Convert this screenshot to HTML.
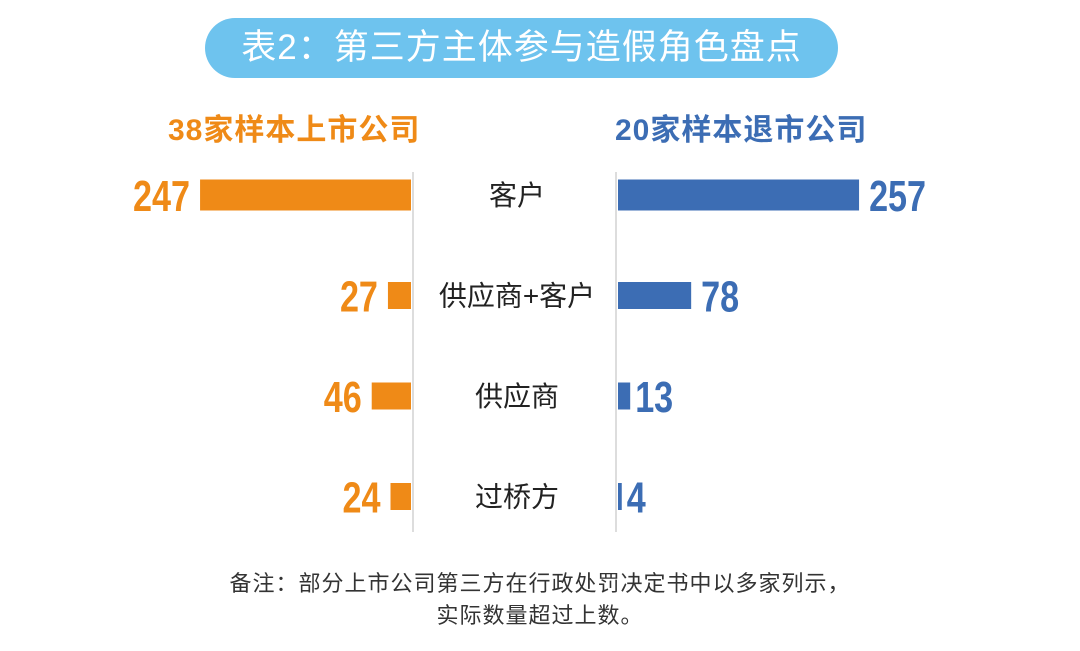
<!DOCTYPE html>
<html><head><meta charset="utf-8">
<style>
html,body{margin:0;padding:0;background:#fff;}
body{width:1080px;height:651px;overflow:hidden;position:relative;font-family:"Liberation Sans","Noto Sans CJK SC",sans-serif;}
.pill{position:absolute;left:205px;top:18px;width:633px;height:60px;border-radius:30px;background:#6ec3ee;color:#fff;font-size:35px;text-align:center;line-height:60px;letter-spacing:1px;}
.hdr{position:absolute;top:105px;font-size:30px;font-weight:bold;letter-spacing:1px;}
.foot{position:absolute;left:0;width:1080px;text-align:center;font-size:22px;color:#333;letter-spacing:1px;}
</style></head>
<body>
<div class="pill">表2：第三方主体参与造假角色盘点</div>
<div class="hdr" style="left:168px;color:#ef8a17;">38家样本上市公司</div>
<div class="hdr" style="left:615px;color:#3c6db4;">20家样本退市公司</div>
<svg id="chart" width="1080" height="651" style="position:absolute;left:0;top:0;">
<line x1="413" y1="172" x2="413" y2="532" stroke="#ddd" stroke-width="2"/>
<line x1="616" y1="172" x2="616" y2="532" stroke="#ddd" stroke-width="2"/>
</svg>
<div class="foot" style="top:566px;">备注：部分上市公司第三方在行政处罚决定书中以多家列示，</div>
<div class="foot" style="top:598px;">实际数量超过上数。</div>
<script>
const categories=["客户","供应商+客户","供应商","过桥方"];
const listedValues=[247,27,46,24];
const delistedValues=[257,78,13,4];
const svg=document.getElementById('chart');
const NS='http://www.w3.org/2000/svg';
const leftBase=411, rightBase=618;
function xLeft(v){return leftBase-v*0.854;}
function xRight(v){return rightBase+v*0.938;}
function yRow(i){return 195+i*100.5;}
function barH(i){return i===0?31:27;}
function numW(s){return String(s).length*19;}
categories.forEach((c,i)=>{
  const y=yRow(i), h=barH(i);
  const lx=xLeft(listedValues[i]);
  const r1=document.createElementNS(NS,'rect');
  r1.setAttribute('x',lx);r1.setAttribute('y',y-h/2);r1.setAttribute('width',leftBase-lx);r1.setAttribute('height',h);r1.setAttribute('fill','#ef8a17');
  
  
  svg.appendChild(r1);
  const rx=xRight(delistedValues[i]);
  const r2=document.createElementNS(NS,'rect');
  r2.setAttribute('x',rightBase);r2.setAttribute('y',y-h/2);r2.setAttribute('width',Math.max(3,rx-rightBase));r2.setAttribute('height',h);r2.setAttribute('fill','#3c6db4');
  
  
  svg.appendChild(r2);
  const t1=document.createElementNS(NS,'text');
  t1.setAttribute('x',lx-10);t1.setAttribute('y',y+16);t1.setAttribute('text-anchor','end');
  t1.setAttribute('font-family','"Liberation Sans",sans-serif');t1.setAttribute('font-weight','bold');t1.setAttribute('font-size','44');t1.setAttribute('fill','#ef8a17');
  t1.setAttribute('textLength',numW(listedValues[i]));t1.setAttribute('lengthAdjust','spacingAndGlyphs');
  t1.textContent=listedValues[i];
  
  
  svg.appendChild(t1);
  const t2=document.createElementNS(NS,'text');
  t2.setAttribute('x',Math.max(rx,rightBase+3)+(delistedValues[i]<20?5:10));t2.setAttribute('y',y+16);
  t2.setAttribute('font-family','"Liberation Sans",sans-serif');t2.setAttribute('font-weight','bold');t2.setAttribute('font-size','44');t2.setAttribute('fill','#3c6db4');
  t2.setAttribute('textLength',numW(delistedValues[i]));t2.setAttribute('lengthAdjust','spacingAndGlyphs');
  t2.textContent=delistedValues[i];
  
  
  svg.appendChild(t2);
  const t3=document.createElementNS(NS,'text');
  t3.setAttribute('x',517);t3.setAttribute('y',y+10);t3.setAttribute('text-anchor','middle');
  t3.setAttribute('font-family','"Liberation Sans","Noto Sans CJK SC",sans-serif');t3.setAttribute('font-size','28');t3.setAttribute('fill','#222');
  t3.textContent=c;
  
  
  svg.appendChild(t3);
});
</script>
</body></html>
